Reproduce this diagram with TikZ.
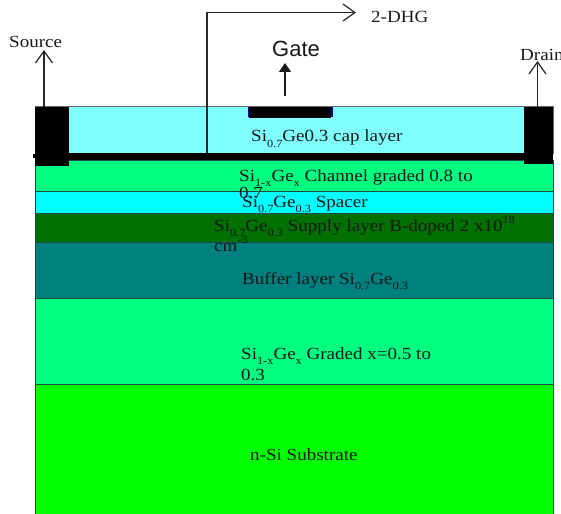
\documentclass[tikz,border=0pt]{standalone}
\usepackage{fontspec}
\setmainfont[FakeStretch=1.12]{Liberation Serif}
\newfontfamily\gatefont{Liberation Sans}
\usetikzlibrary{arrows.meta}
\definecolor{capc}{HTML}{80FFFF}
\definecolor{gradc}{HTML}{00FF80}
\definecolor{spacec}{HTML}{00FFFF}
\definecolor{supc}{HTML}{007000}
\definecolor{bufc}{HTML}{007F7F}
\definecolor{subc}{HTML}{00FF00}
\definecolor{edgec}{HTML}{1C4A4A}
\newcommand{\dn}[1]{\raisebox{-0.3em}{\fontsize{11}{11}\selectfont #1}}
\newcommand{\up}[1]{\raisebox{0.42em}{\fontsize{11}{11}\selectfont #1}}
\tikzset{
  x=1pt,y=-1pt,
  layer/.style={draw=edgec,line width=1pt},
  lbl/.style={anchor=base west,inner sep=0pt,font=\fontsize{17}{17}\selectfont,text=black!90},
  conn/.style={draw=black!85,line width=1.2pt},
  openhead/.style={-{Straight Barb[length=12pt,width=17pt,line width=1.2pt]}},
}
\begin{document}
\begin{tikzpicture}
\useasboundingbox (0,0) rectangle (561,513);
% layers
\path[layer,fill=subc] (35,384) rectangle (553,514);
\path[layer,fill=gradc] (35,298) rectangle (553,384);
\path[layer,fill=bufc] (35,242) rectangle (553,298);
\path[layer,fill=supc] (35,213) rectangle (553,242);
\path[layer,fill=spacec] (35,191.5) rectangle (553,213);
\path[layer,fill=gradc] (35,160) rectangle (553,191.5);
\path[layer,draw=black!60,fill=capc] (35,107) rectangle (553,153);
% metal
\fill[black] (35,107) rectangle (68.5,165.5);
\fill[black] (524,107) rectangle (553,164);
\fill[black] (35,152.5) rectangle (553,160);
\fill[black] (33,153.5) rectangle (36,158);
\fill[blue!70!black] (247.5,107) rectangle (332.5,117);
\fill[black] (249,107) rectangle (331,118);
% connector anchors
\coordinate (srcfoot) at (44,107);
\coordinate (srctip) at (44,50);
\coordinate (drnfoot) at (537.5,107);
\coordinate (drntip) at (537.5,61);
\coordinate (gatefoot) at (285,96);
\coordinate (gatetip) at (285,63);
\coordinate (dhgfoot) at (207,153);
\coordinate (dhgcorner) at (207,12.5);
\coordinate (dhgtip) at (356,12.5);
% labels
\node[lbl] (source) at (9,48) {Source};
\node[lbl] (drain) at (520,61) {Drain};
\node[lbl] (dhg) at (371,23) {2-DHG};
\node[anchor=base west,inner sep=0pt,font=\gatefont\fontsize{22}{22}\selectfont,text=black!90] (gate) at (272,57) {Gate};
\node[lbl] (cap) at (251,142) {Si\dn{0.7}Ge0.3 cap layer};
\node[lbl] (chan) at (239,181) {Si\dn{1-x}Ge\dn{x} Channel graded 0.8 to};
\node[lbl] (chan2) at (239,198) {0.7};
\node[lbl] (spacer) at (242,207) {Si\dn{0.7}Ge\dn{0.3} Spacer};
\node[lbl] (supply) at (214,231) {Si\dn{0.7}Ge\dn{0.3} Supply layer B-doped 2 x10\up{18}};
\node[lbl] (supply2) at (214,251) {cm\up{-3}};
\node[lbl] (buffer) at (242,284) {Buffer layer Si\dn{0.7}Ge\dn{0.3}};
\node[lbl] (graded) at (241,359) {Si\dn{1-x}Ge\dn{x} Graded x=0.5 to};
\node[lbl] (graded2) at (241,380) {0.3};
\node[lbl] (subst) at (250,460) {n-Si Substrate};
% connectors
\draw[conn,openhead] (srcfoot) -- (srctip);
\draw[conn,openhead] (drnfoot) -- (drntip);
\draw[draw=black!90,line width=1.4pt,-{Triangle[length=9pt,width=12pt]}] (gatefoot) -- (gatetip);
\draw[conn,openhead] (dhgfoot) -- (dhgcorner) -- (dhgtip);
\end{tikzpicture}
\end{document}
